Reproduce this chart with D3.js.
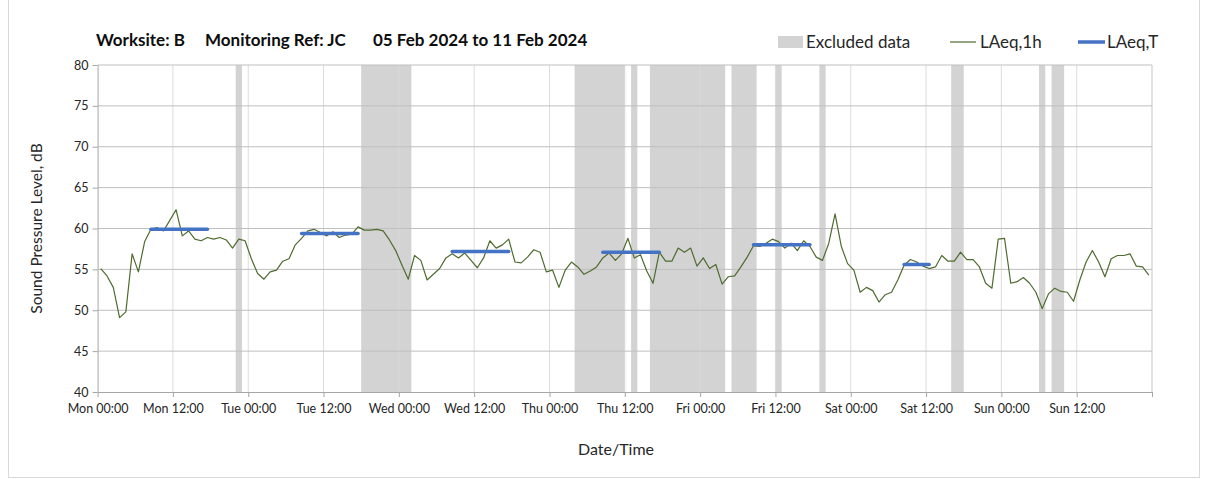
<!DOCTYPE html>
<html>
<head>
<meta charset="utf-8">
<script src="https://cdn.jsdelivr.net/npm/d3@7"></script>
<style>
  body { margin: 0; background: #fff; }
  svg { display: block; font-family: Lato, "Open Sans", sans-serif; }
</style>
</head>
<body>
<div id="chart"></div>
<script>
const width = 1205
const height = 479
const margin = {top: 65, right: 53, bottom: 87, left: 97.6}

const startDate = new Date(Date.UTC(2024, 1, 5, 0, 0))
const endDate = new Date(Date.UTC(2024, 1, 12, 0, 0))

// hourly LAeq,1h values, Mon 00:00 onwards
const laeq1h = [
  55.1, 54.2, 52.8, 49.1, 49.8, 56.9, 54.7, 58.4, 59.9, 60.1, 59.7, 61.0,
  62.3, 59.1, 59.7, 58.7, 58.5, 58.9, 58.7, 58.9, 58.6, 57.6, 58.7, 58.5,
  56.3, 54.5, 53.8, 54.7, 54.9, 56.0, 56.3, 58.0, 58.8, 59.7, 59.9, 59.5,
  59.1, 59.6, 58.9, 59.2, 59.3, 60.2, 59.8, 59.8, 59.9, 59.7, 58.6, 57.3,
  55.5, 53.8, 56.7, 56.1, 53.7, 54.4, 55.1, 56.4, 56.9, 56.4, 57.0, 56.1,
  55.2, 56.4, 58.5, 57.6, 58.0, 58.7, 55.9, 55.8, 56.5, 57.4, 57.1, 54.7,
  54.9, 52.8, 54.9, 55.9, 55.3, 54.4, 54.8, 55.3, 56.4, 57.0, 56.1, 56.9,
  58.8, 56.4, 56.8, 54.8, 53.3, 57.1, 56.0, 56.0, 57.6, 57.1, 57.6, 55.4,
  56.4, 55.1, 55.6, 53.2, 54.1, 54.2, 55.3, 56.5, 57.9, 57.8, 58.2, 58.7,
  58.4, 57.6, 58.2, 57.3, 58.5, 57.8, 56.5, 56.1, 58.2, 61.8, 57.8, 55.7,
  54.9, 52.2, 52.8, 52.4, 51.0, 51.9, 52.2, 53.7, 55.5, 56.2, 55.9, 55.4,
  55.1, 55.3, 56.7, 56.0, 56.0, 57.1, 56.2, 56.2, 55.3, 53.3, 52.7, 58.7,
  58.8, 53.3, 53.5, 54.0, 53.3, 52.2, 50.2, 52.0, 52.7, 52.3, 52.2, 51.1,
  53.7, 55.9, 57.3, 55.9, 54.1, 56.3, 56.7, 56.7, 56.9, 55.4, 55.3, 54.3
]

// daytime LAeq,T periods: first hour, last hour, level
const laeqTStart = [8, 32, 56, 80, 104, 128]
const laeqTEnd = [17, 41, 65, 89, 113, 132]
const laeqTValue = [59.9, 59.4, 57.2, 57.1, 58.0, 55.6]

// excluded hours: start hour, end hour
const excludedStart = [22, 42, 76, 85, 88, 101, 108, 115, 136, 150, 152]
const excludedEnd = [23, 50, 84, 86, 100, 105, 109, 116, 138, 151, 154]

const yTicks = [40, 45, 50, 55, 60, 65, 70, 75, 80]

const hourDate = h => new Date(startDate.getTime() + h * 3600000)

const svg = d3.select("#chart")
  .append("svg")
  .attr("width", width)
  .attr("height", height)

const x = d3.scaleUtc()
  .domain([startDate, endDate])
  .range([margin.left, width - margin.right])

const y = d3.scaleLinear()
  .domain([40, 80])
  .range([height - margin.bottom, margin.top])

// outer frame
svg.append("rect")
  .attr("x", 8.5)
  .attr("y", -1)
  .attr("width", width - 14)
  .attr("height", height - 0.5)
  .attr("fill", "none")
  .attr("stroke", "#d9d9d9")

// excluded bands
svg.append("g")
  .selectAll("rect")
  .data(excludedStart.map((s, i) => [s, excludedEnd[i]]))
  .join("rect")
    .attr("x", d => x(hourDate(d[0])))
    .attr("width", d => x(hourDate(d[1])) - x(hourDate(d[0])))
    .attr("y", y(80))
    .attr("height", y(40) - y(80))
    .attr("fill", "#d3d3d3")

// grid
const xTicks = d3.utcHour.every(12).range(startDate, d3.utcHour.offset(endDate, 1))

svg.append("g")
  .selectAll("line")
  .data(xTicks.slice(1))
  .join("line")
    .attr("x1", d => x(d))
    .attr("x2", d => x(d))
    .attr("y1", y(80))
    .attr("y2", y(40))
    .attr("stroke", d => +d === +endDate ? "#bfbfbf" : "#d9d9d9")
    .attr("stroke-opacity", 0.9)

svg.append("g")
  .selectAll("line")
  .data(yTicks.slice(1))
  .join("line")
    .attr("x1", x.range()[0])
    .attr("x2", x.range()[1])
    .attr("y1", d => y(d))
    .attr("y2", d => y(d))
    .attr("stroke", "#bfbfbf")

// axes
const xAxis = svg.append("g")
  .attr("transform", `translate(0,${y(40)})`)
  .call(d3.axisBottom(x)
    .tickValues(xTicks)
    .tickFormat(d3.utcFormat("%a %H:%M"))
    .tickSize(5)
    .tickSizeOuter(0))

xAxis.select(".domain").attr("stroke", "#a6a6a6")
xAxis.selectAll(".tick line").attr("stroke", "#a6a6a6")
xAxis.selectAll(".tick text")
  .attr("dy", "1.05em")
  .attr("font-size", 12.5)
  .attr("font-family", "Lato, sans-serif")
  .attr("fill", "#262626")
  .filter(d => +d === +endDate).remove()

const yAxis = svg.append("g")
  .attr("transform", `translate(${x.range()[0]},0)`)
  .call(d3.axisLeft(y)
    .tickValues(yTicks)
    .tickSize(5)
    .tickSizeOuter(0))

yAxis.select(".domain").attr("stroke", "#a6a6a6")
yAxis.selectAll(".tick line").attr("stroke", "#a6a6a6")
yAxis.selectAll(".tick text")
  .attr("x", -9)
  .attr("font-size", 12.5)
  .attr("font-family", "Lato, sans-serif")
  .attr("fill", "#262626")

// LAeq,1h line
const line = d3.line()
  .x((d, i) => x(hourDate(i + 0.5)))
  .y(d => y(d))

svg.append("path")
  .datum(laeq1h)
  .attr("d", line)
  .attr("fill", "none")
  .attr("stroke", "#4f6b2f")
  .attr("stroke-width", 1.2)
  .attr("stroke-linejoin", "round")

// LAeq,T segments
svg.append("g")
  .selectAll("line")
  .data(laeqTStart.map((s, i) => ({s: s, e: laeqTEnd[i], v: laeqTValue[i]})))
  .join("line")
    .attr("x1", d => x(hourDate(d.s + 0.5)))
    .attr("x2", d => x(hourDate(d.e + 0.5)))
    .attr("y1", d => y(d.v))
    .attr("y2", d => y(d.v))
    .attr("stroke", "#4472c4")
    .attr("stroke-width", 3.5)
    .attr("stroke-linecap", "round")

// title
const title = svg.append("text")
  .attr("y", 46)
  .attr("font-size", 17)
  .attr("font-weight", "bold")
  .attr("fill", "#0d0d0d")

title.append("tspan").attr("x", 96).text("Worksite: B")
title.append("tspan").attr("x", 205).text("Monitoring Ref: JC")
title.append("tspan").attr("x", 373).text("05 Feb 2024 to 11 Feb 2024")

// legend
const legend = svg.append("g")
  .attr("font-size", 17)
  .attr("fill", "#262626")

legend.append("rect")
  .attr("x", 778).attr("y", 36)
  .attr("width", 25).attr("height", 12)
  .attr("fill", "#d3d3d3")
legend.append("text").attr("x", 806).attr("y", 48).text("Excluded data")

legend.append("line")
  .attr("x1", 950).attr("x2", 976)
  .attr("y1", 42).attr("y2", 42)
  .attr("stroke", "#4f6b2f").attr("stroke-width", 1.2)
legend.append("text").attr("x", 980).attr("y", 48).text("LAeq,1h")

legend.append("line")
  .attr("x1", 1078).attr("x2", 1105)
  .attr("y1", 42).attr("y2", 42)
  .attr("stroke", "#4472c4").attr("stroke-width", 3.5)
legend.append("text").attr("x", 1107).attr("y", 48).text("LAeq,T")

// axis titles
svg.append("text")
  .attr("transform", `translate(42,${(y(40) + y(80)) / 2}) rotate(-90)`)
  .attr("text-anchor", "middle")
  .attr("font-size", 15.5)
  .attr("fill", "#262626")
  .text("Sound Pressure Level, dB")

svg.append("text")
  .attr("x", 616)
  .attr("y", 455)
  .attr("text-anchor", "middle")
  .attr("font-size", 16)
  .attr("fill", "#262626")
  .text("Date/Time")
</script>
</body>
</html>
